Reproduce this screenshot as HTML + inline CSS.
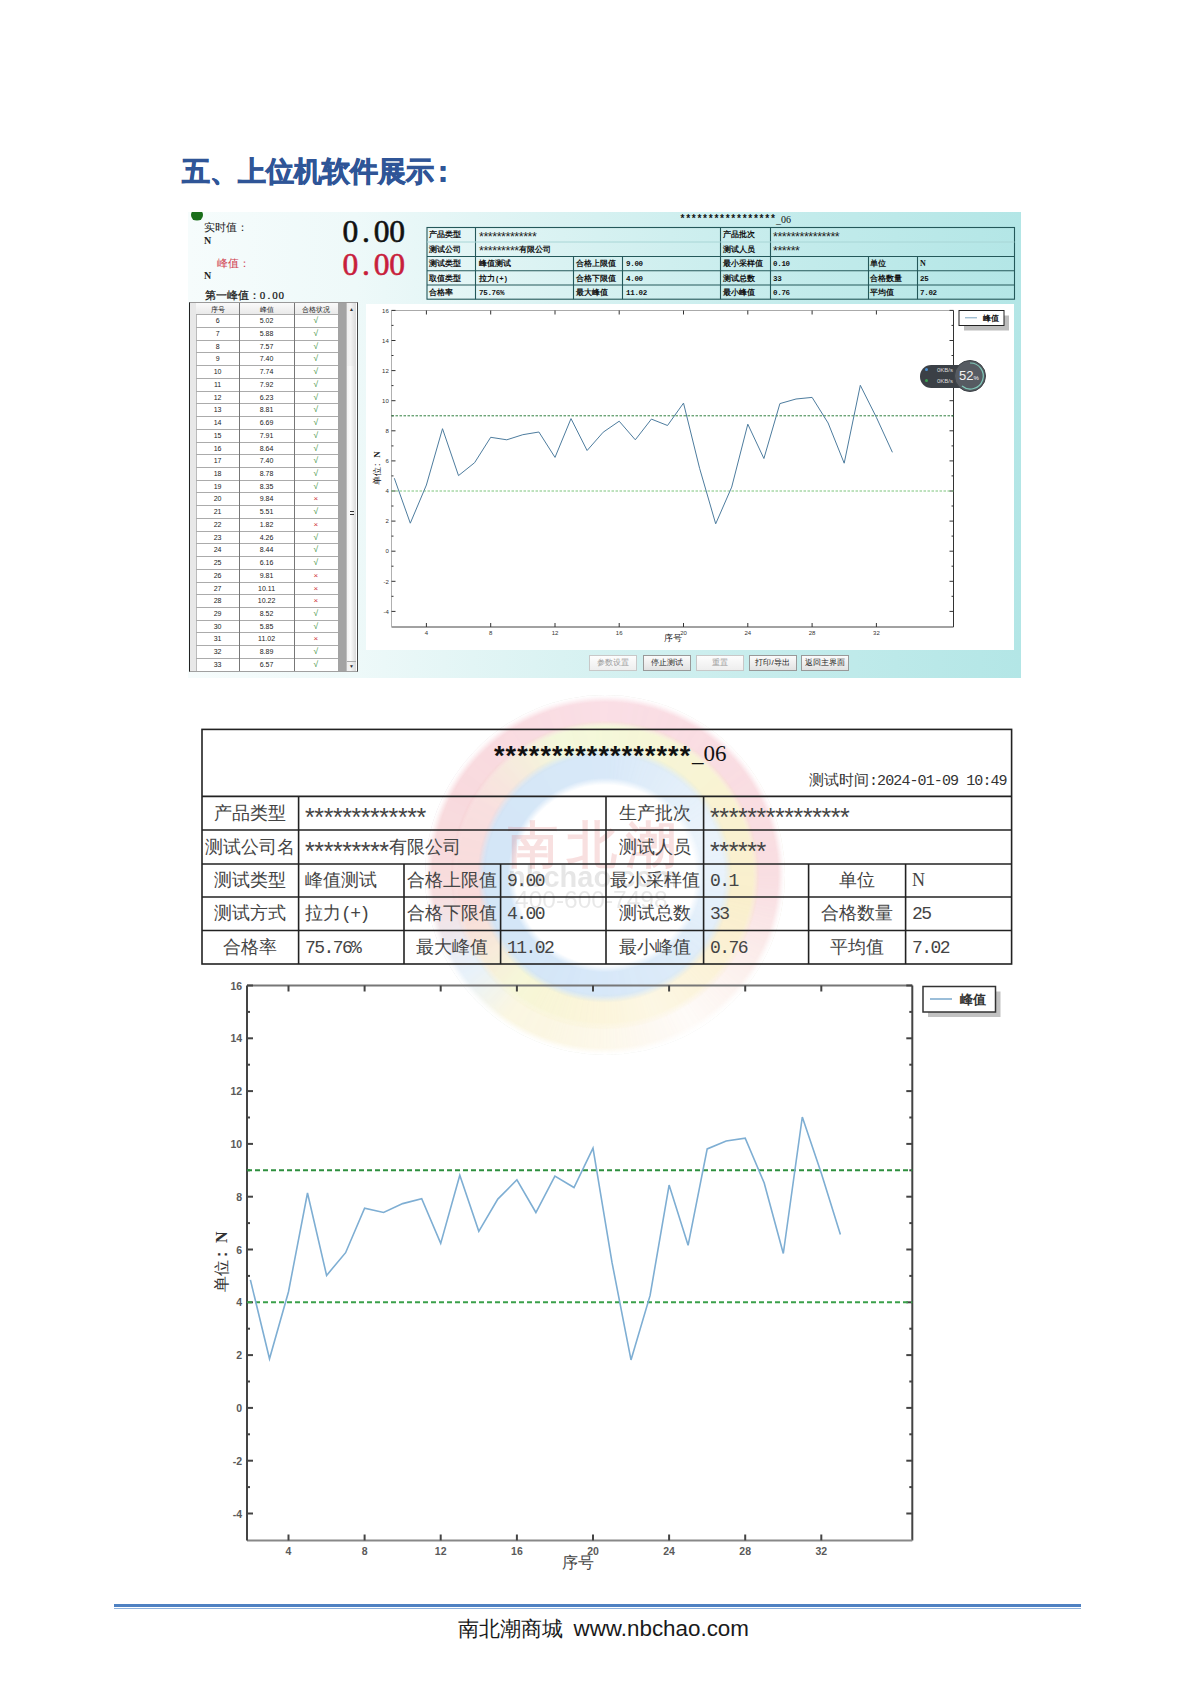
<!DOCTYPE html>
<html><head><meta charset="utf-8">
<style>
html,body{margin:0;padding:0}
body{width:1200px;height:1697px;position:relative;overflow:hidden;background:#fff;font-family:"Liberation Sans",sans-serif;color:#222}
.a{position:absolute;white-space:nowrap;line-height:1}
#head{left:182px;top:157.5px;font-size:28px;font-weight:bold;color:#2f5597;letter-spacing:0px;-webkit-text-stroke:0.8px #2f5597}
#panel{position:absolute;left:188px;top:212px;width:833px;height:466px;overflow:hidden;
 background:linear-gradient(90deg,#f6fcfc 0%,#eef9f9 20%,#d9f2f2 45%,#c2ebeb 75%,#b3e6e6 100%)}
#plot{position:absolute;left:366px;top:304px;width:648px;height:346px;background:#fff}
#ltab{position:absolute;left:189px;top:302px;width:169px;height:370px;background:#fff;border-left:1.5px solid #222;border-top:1px solid #999;border-bottom:1.5px solid #a0a0a0;border-right:1.5px solid #444;box-sizing:border-box;overflow:hidden;font-family:"Liberation Sans",sans-serif;font-size:7px;color:#222}
.lr{position:absolute;left:6px;width:142px;height:12.73px;border-top:1px solid #ababab;box-sizing:border-box}
.lr div{position:absolute;top:2px;text-align:center}
.c1{left:0;width:43.2px}.c2{left:43.2px;width:54.7px}.c3{left:97.9px;width:44px}
.btn{position:absolute;top:654.8px;height:16.3px;width:48px;box-sizing:border-box;border:1px solid #999;background:linear-gradient(#fbfbfb,#e2e2e2);font-size:8px;text-align:center;line-height:14px;color:#222}
.btn.dis{color:#999;border-color:#c8c8c8;background:linear-gradient(#fdfdfd,#eeeeee)}
.rt{position:absolute;font-size:18px;color:#444;line-height:1;white-space:nowrap}
.mono{font-family:"Liberation Mono",monospace}
.ast{font-family:"Liberation Sans",sans-serif;font-size:25px;letter-spacing:-0.45px;position:relative;top:7px;color:#444;line-height:0}
.big{font-family:"Liberation Serif",serif;font-size:31.5px;-webkit-text-stroke:0.6px currentColor}
.big i{font-style:normal;display:inline-block;width:15.6px;text-align:center}
.sm i{font-style:normal;display:inline-block;width:6.2px;text-align:center}
</style></head><body>
<div class="a" id="head">五、上位机软件展示<span style="position:relative;left:-5.5px">：</span></div>

<div id="panel"></div>
<div id="plot"></div>
<!-- green dot -->
<div style="position:absolute;left:191px;top:208.5px;width:12px;height:12px;border-radius:50%;background:#1a6e1a;clip-path:inset(3.5px 0 0 0)"></div>
<div class="a" style="left:204px;top:222px;font-size:11px;color:#222">实时值：</div>
<div class="a" style="left:204px;top:236px;font-size:10px;font-family:'Liberation Serif';font-weight:bold">N</div>
<div class="a" style="left:217px;top:258px;font-size:11px;color:#d04050">峰值：</div>
<div class="a" style="left:204px;top:271px;font-size:10px;font-family:'Liberation Serif';font-weight:bold">N</div>
<div class="a" style="left:204.5px;top:290px;font-size:10.5px;color:#111;-webkit-text-stroke:0.2px #111">第一峰值：<span class="sm" style="font-family:'Liberation Serif';font-size:11px"><i>0</i><i>.</i><i>0</i><i>0</i></span></div>
<div class="a big" style="left:342.5px;top:215.5px;color:#111"><i>0</i><i>.</i><i>0</i><i>0</i></div>
<div class="a big" style="left:342.5px;top:248.7px;color:#c81e3c"><i>0</i><i>.</i><i>0</i><i>0</i></div>

<!-- info table -->
<div class="a mono" style="left:679.5px;top:215px;font-size:10px;font-weight:bold;letter-spacing:-0.35px;color:#111">*****************</div>
<div class="a" style="left:776px;top:215px;font-size:10px;font-family:'Liberation Serif';color:#111">_06</div>
<svg style="position:absolute;left:0;top:0" width="1200" height="700">
<g stroke="#24585a" stroke-width="1.1" fill="none">
<rect x="427" y="227.5" width="587.5" height="71.7"/>
<line x1="427" y1="256.5" x2="1014.5" y2="256.5"/>
<line x1="427" y1="270.7" x2="1014.5" y2="270.7"/>
<line x1="427" y1="285" x2="1014.5" y2="285"/>
<line x1="475.5" y1="227.5" x2="475.5" y2="299.2"/>
<line x1="720.5" y1="227.5" x2="720.5" y2="299.2"/>
<line x1="770.5" y1="227.5" x2="770.5" y2="299.2"/>
<line x1="573.5" y1="256.5" x2="573.5" y2="299.2"/>
<line x1="622.5" y1="256.5" x2="622.5" y2="299.2"/>
<line x1="868.5" y1="256.5" x2="868.5" y2="299.2"/>
<line x1="917.5" y1="256.5" x2="917.5" y2="299.2"/>
</g>
<line x1="427" y1="242" x2="1014.5" y2="242" stroke="#a8d6d6" stroke-width="1"/>
</svg>
<div class="a" style="left:429px;top:228.3px;height:14.5px;line-height:14.5px;font-size:8px;color:#111;font-weight:bold">产品类型</div>
<div class="a" style="left:479px;top:228.3px;height:14.5px;line-height:14.5px;font-size:8px;color:#111;font-weight:bold"><span style="font-family:Liberation Sans;font-size:12.5px;letter-spacing:-0.45px;position:relative;top:3.3px;line-height:0;font-weight:normal;color:#222">*************</span></div>
<div class="a" style="left:723px;top:228.3px;height:14.5px;line-height:14.5px;font-size:8px;color:#111;font-weight:bold">产品批次</div>
<div class="a" style="left:773px;top:228.3px;height:14.5px;line-height:14.5px;font-size:8px;color:#111;font-weight:bold"><span style="font-family:Liberation Sans;font-size:12.5px;letter-spacing:-0.45px;position:relative;top:3.3px;line-height:0;font-weight:normal;color:#222">***************</span></div>
<div class="a" style="left:429px;top:242.8px;height:14.5px;line-height:14.5px;font-size:8px;color:#111;font-weight:bold">测试公司</div>
<div class="a" style="left:479px;top:242.8px;height:14.5px;line-height:14.5px;font-size:8px;color:#111;font-weight:bold"><span style="font-family:Liberation Sans;font-size:12.5px;letter-spacing:-0.45px;position:relative;top:3.3px;line-height:0;font-weight:normal;color:#222">*********</span>有限公司</div>
<div class="a" style="left:723px;top:242.8px;height:14.5px;line-height:14.5px;font-size:8px;color:#111;font-weight:bold">测试人员</div>
<div class="a" style="left:773px;top:242.8px;height:14.5px;line-height:14.5px;font-size:8px;color:#111;font-weight:bold"><span style="font-family:Liberation Sans;font-size:12.5px;letter-spacing:-0.45px;position:relative;top:3.3px;line-height:0;font-weight:normal;color:#222">******</span></div>
<div class="a" style="left:429px;top:257.3px;height:14.2px;line-height:14.2px;font-size:8px;color:#111;font-weight:bold">测试类型</div>
<div class="a" style="left:479px;top:257.3px;height:14.2px;line-height:14.2px;font-size:8px;color:#111;font-weight:bold">峰值测试</div>
<div class="a" style="left:576px;top:257.3px;height:14.2px;line-height:14.2px;font-size:8px;color:#111;font-weight:bold">合格上限值</div>
<div class="a" style="left:626px;top:257.3px;height:14.2px;line-height:14.2px;font-size:8px;color:#111;font-weight:bold"><span class="mono" style="font-size:7.5px;font-weight:bold;letter-spacing:-0.3px">9.00</span></div>
<div class="a" style="left:723px;top:257.3px;height:14.2px;line-height:14.2px;font-size:8px;color:#111;font-weight:bold">最小采样值</div>
<div class="a" style="left:773px;top:257.3px;height:14.2px;line-height:14.2px;font-size:8px;color:#111;font-weight:bold"><span class="mono" style="font-size:7.5px;font-weight:bold;letter-spacing:-0.3px">0.10</span></div>
<div class="a" style="left:870px;top:257.3px;height:14.2px;line-height:14.2px;font-size:8px;color:#111;font-weight:bold">单位</div>
<div class="a" style="left:920px;top:257.3px;height:14.2px;line-height:14.2px;font-size:8px;color:#111;font-weight:bold"><span style="font-family:Liberation Serif;font-size:8px">N</span></div>
<div class="a" style="left:429px;top:271.5px;height:14.3px;line-height:14.3px;font-size:8px;color:#111;font-weight:bold">取值类型</div>
<div class="a" style="left:479px;top:271.5px;height:14.3px;line-height:14.3px;font-size:8px;color:#111;font-weight:bold">拉力<span class="mono" style="font-size:7.5px;font-weight:bold;letter-spacing:-0.3px">(+)</span></div>
<div class="a" style="left:576px;top:271.5px;height:14.3px;line-height:14.3px;font-size:8px;color:#111;font-weight:bold">合格下限值</div>
<div class="a" style="left:626px;top:271.5px;height:14.3px;line-height:14.3px;font-size:8px;color:#111;font-weight:bold"><span class="mono" style="font-size:7.5px;font-weight:bold;letter-spacing:-0.3px">4.00</span></div>
<div class="a" style="left:723px;top:271.5px;height:14.3px;line-height:14.3px;font-size:8px;color:#111;font-weight:bold">测试总数</div>
<div class="a" style="left:773px;top:271.5px;height:14.3px;line-height:14.3px;font-size:8px;color:#111;font-weight:bold"><span class="mono" style="font-size:7.5px;font-weight:bold;letter-spacing:-0.3px">33</span></div>
<div class="a" style="left:870px;top:271.5px;height:14.3px;line-height:14.3px;font-size:8px;color:#111;font-weight:bold">合格数量</div>
<div class="a" style="left:920px;top:271.5px;height:14.3px;line-height:14.3px;font-size:8px;color:#111;font-weight:bold"><span class="mono" style="font-size:7.5px;font-weight:bold;letter-spacing:-0.3px">25</span></div>
<div class="a" style="left:429px;top:285.8px;height:14.2px;line-height:14.2px;font-size:8px;color:#111;font-weight:bold">合格率</div>
<div class="a" style="left:479px;top:285.8px;height:14.2px;line-height:14.2px;font-size:8px;color:#111;font-weight:bold"><span class="mono" style="font-size:7.5px;font-weight:bold;letter-spacing:-0.3px">75.76%</span></div>
<div class="a" style="left:576px;top:285.8px;height:14.2px;line-height:14.2px;font-size:8px;color:#111;font-weight:bold">最大峰值</div>
<div class="a" style="left:626px;top:285.8px;height:14.2px;line-height:14.2px;font-size:8px;color:#111;font-weight:bold"><span class="mono" style="font-size:7.5px;font-weight:bold;letter-spacing:-0.3px">11.02</span></div>
<div class="a" style="left:723px;top:285.8px;height:14.2px;line-height:14.2px;font-size:8px;color:#111;font-weight:bold">最小峰值</div>
<div class="a" style="left:773px;top:285.8px;height:14.2px;line-height:14.2px;font-size:8px;color:#111;font-weight:bold"><span class="mono" style="font-size:7.5px;font-weight:bold;letter-spacing:-0.3px">0.76</span></div>
<div class="a" style="left:870px;top:285.8px;height:14.2px;line-height:14.2px;font-size:8px;color:#111;font-weight:bold">平均值</div>
<div class="a" style="left:920px;top:285.8px;height:14.2px;line-height:14.2px;font-size:8px;color:#111;font-weight:bold"><span class="mono" style="font-size:7.5px;font-weight:bold;letter-spacing:-0.3px">7.02</span></div>

<div id="ltab">
 <div style="position:absolute;left:0;top:0;width:6px;height:100%;background:#e8e8e8;border-right:1px solid #bbb"></div>
 <div style="position:absolute;left:6px;top:0;width:142px;height:11.2px;background:linear-gradient(#fafafa,#e9e9e9)"></div>
 <div class="lr" style="top:0;border-top:none"><div class="c1" style="top:1.5px">序号</div><div class="c2" style="top:1.5px">峰值</div><div class="c3" style="top:1.5px">合格状况</div></div>
<div class="lr" style="top:11.20px"><div class="c1">6</div><div class="c2">5.02</div><div class="c3"><span style="color:#2f8a2f;font-size:8.5px;line-height:7px">&#8730;</span></div></div>
<div class="lr" style="top:23.93px"><div class="c1">7</div><div class="c2">5.88</div><div class="c3"><span style="color:#2f8a2f;font-size:8.5px;line-height:7px">&#8730;</span></div></div>
<div class="lr" style="top:36.66px"><div class="c1">8</div><div class="c2">7.57</div><div class="c3"><span style="color:#2f8a2f;font-size:8.5px;line-height:7px">&#8730;</span></div></div>
<div class="lr" style="top:49.39px"><div class="c1">9</div><div class="c2">7.40</div><div class="c3"><span style="color:#2f8a2f;font-size:8.5px;line-height:7px">&#8730;</span></div></div>
<div class="lr" style="top:62.12px"><div class="c1">10</div><div class="c2">7.74</div><div class="c3"><span style="color:#2f8a2f;font-size:8.5px;line-height:7px">&#8730;</span></div></div>
<div class="lr" style="top:74.85px"><div class="c1">11</div><div class="c2">7.92</div><div class="c3"><span style="color:#2f8a2f;font-size:8.5px;line-height:7px">&#8730;</span></div></div>
<div class="lr" style="top:87.58px"><div class="c1">12</div><div class="c2">6.23</div><div class="c3"><span style="color:#2f8a2f;font-size:8.5px;line-height:7px">&#8730;</span></div></div>
<div class="lr" style="top:100.31px"><div class="c1">13</div><div class="c2">8.81</div><div class="c3"><span style="color:#2f8a2f;font-size:8.5px;line-height:7px">&#8730;</span></div></div>
<div class="lr" style="top:113.04px"><div class="c1">14</div><div class="c2">6.69</div><div class="c3"><span style="color:#2f8a2f;font-size:8.5px;line-height:7px">&#8730;</span></div></div>
<div class="lr" style="top:125.77px"><div class="c1">15</div><div class="c2">7.91</div><div class="c3"><span style="color:#2f8a2f;font-size:8.5px;line-height:7px">&#8730;</span></div></div>
<div class="lr" style="top:138.50px"><div class="c1">16</div><div class="c2">8.64</div><div class="c3"><span style="color:#2f8a2f;font-size:8.5px;line-height:7px">&#8730;</span></div></div>
<div class="lr" style="top:151.23px"><div class="c1">17</div><div class="c2">7.40</div><div class="c3"><span style="color:#2f8a2f;font-size:8.5px;line-height:7px">&#8730;</span></div></div>
<div class="lr" style="top:163.96px"><div class="c1">18</div><div class="c2">8.78</div><div class="c3"><span style="color:#2f8a2f;font-size:8.5px;line-height:7px">&#8730;</span></div></div>
<div class="lr" style="top:176.69px"><div class="c1">19</div><div class="c2">8.35</div><div class="c3"><span style="color:#2f8a2f;font-size:8.5px;line-height:7px">&#8730;</span></div></div>
<div class="lr" style="top:189.42px"><div class="c1">20</div><div class="c2">9.84</div><div class="c3"><span style="color:#d03a3a;font-size:8px;line-height:7px">&#215;</span></div></div>
<div class="lr" style="top:202.15px"><div class="c1">21</div><div class="c2">5.51</div><div class="c3"><span style="color:#2f8a2f;font-size:8.5px;line-height:7px">&#8730;</span></div></div>
<div class="lr" style="top:214.88px"><div class="c1">22</div><div class="c2">1.82</div><div class="c3"><span style="color:#d03a3a;font-size:8px;line-height:7px">&#215;</span></div></div>
<div class="lr" style="top:227.61px"><div class="c1">23</div><div class="c2">4.26</div><div class="c3"><span style="color:#2f8a2f;font-size:8.5px;line-height:7px">&#8730;</span></div></div>
<div class="lr" style="top:240.34px"><div class="c1">24</div><div class="c2">8.44</div><div class="c3"><span style="color:#2f8a2f;font-size:8.5px;line-height:7px">&#8730;</span></div></div>
<div class="lr" style="top:253.07px"><div class="c1">25</div><div class="c2">6.16</div><div class="c3"><span style="color:#2f8a2f;font-size:8.5px;line-height:7px">&#8730;</span></div></div>
<div class="lr" style="top:265.80px"><div class="c1">26</div><div class="c2">9.81</div><div class="c3"><span style="color:#d03a3a;font-size:8px;line-height:7px">&#215;</span></div></div>
<div class="lr" style="top:278.53px"><div class="c1">27</div><div class="c2">10.11</div><div class="c3"><span style="color:#d03a3a;font-size:8px;line-height:7px">&#215;</span></div></div>
<div class="lr" style="top:291.26px"><div class="c1">28</div><div class="c2">10.22</div><div class="c3"><span style="color:#d03a3a;font-size:8px;line-height:7px">&#215;</span></div></div>
<div class="lr" style="top:303.99px"><div class="c1">29</div><div class="c2">8.52</div><div class="c3"><span style="color:#2f8a2f;font-size:8.5px;line-height:7px">&#8730;</span></div></div>
<div class="lr" style="top:316.72px"><div class="c1">30</div><div class="c2">5.85</div><div class="c3"><span style="color:#2f8a2f;font-size:8.5px;line-height:7px">&#8730;</span></div></div>
<div class="lr" style="top:329.45px"><div class="c1">31</div><div class="c2">11.02</div><div class="c3"><span style="color:#d03a3a;font-size:8px;line-height:7px">&#215;</span></div></div>
<div class="lr" style="top:342.18px"><div class="c1">32</div><div class="c2">8.89</div><div class="c3"><span style="color:#2f8a2f;font-size:8.5px;line-height:7px">&#8730;</span></div></div>
<div class="lr" style="top:354.91px"><div class="c1">33</div><div class="c2">6.57</div><div class="c3"><span style="color:#2f8a2f;font-size:8.5px;line-height:7px">&#8730;</span></div></div>
 <div style="position:absolute;left:49px;top:0;width:1px;height:100%;background:#777"></div>
 <div style="position:absolute;left:103.5px;top:0;width:1px;height:100%;background:#777"></div>
 <div style="position:absolute;left:148px;top:0;width:9px;height:100%;background:#a3a3a3;border-right:1px solid #bdbdbd;box-sizing:border-box"></div>
 <div style="position:absolute;left:157px;top:0;width:9px;height:100%;background:linear-gradient(90deg,#efefef,#f3f3f3 40%,#dadada)"></div>
 <div style="position:absolute;left:157px;top:63px;width:9px;height:296px;background:linear-gradient(90deg,#f2f2f2,#fbfbfb 40%,#d9d9d9);border-bottom:1px solid #aaa;box-sizing:border-box"></div>
 <div style="position:absolute;left:159.5px;top:208px;width:4px;height:1px;background:#333"></div>
 <div style="position:absolute;left:159.5px;top:210.5px;width:4px;height:1px;background:#333"></div>
 <div style="position:absolute;left:159px;top:2.5px;font-size:5px;color:#333">&#9650;</div>
 <div style="position:absolute;left:159px;top:360px;font-size:5px;color:#333">&#9660;</div>
</div>

<div class="btn dis" style="left:589.3px">参数设置</div>
<div class="btn" style="left:642.5px">停止测试</div>
<div class="btn dis" style="left:695.5px">重置</div>
<div class="btn" style="left:748.5px">打印/导出</div>
<div class="btn" style="left:801.2px">返回主界面</div>

<svg style="position:absolute;left:0;top:0;font-family:'Liberation Sans';font-size:6px;fill:#333" width="1200" height="700">
<line x1="391.5" y1="310.5" x2="953.5" y2="310.5" stroke="#aaa" stroke-width="1"/>
<line x1="953.5" y1="310.5" x2="953.5" y2="627" stroke="#333" stroke-width="1"/>
<line x1="391.5" y1="627" x2="953.5" y2="627" stroke="#444" stroke-width="1"/>
<line x1="391.5" y1="310.5" x2="391.5" y2="627" stroke="#b0b0b0" stroke-width="1"/>
<line x1="391.5" y1="611.4" x2="395.5" y2="611.4" stroke="#333" stroke-width="1"/>
<line x1="953.5" y1="611.4" x2="949.5" y2="611.4" stroke="#333" stroke-width="1"/>
<text x="388.8" y="613.6" text-anchor="end">-4</text>
<line x1="391.5" y1="596.3" x2="393.5" y2="596.3" stroke="#333" stroke-width="1"/>
<line x1="953.5" y1="596.3" x2="951.5" y2="596.3" stroke="#333" stroke-width="1"/>
<line x1="391.5" y1="581.3" x2="395.5" y2="581.3" stroke="#333" stroke-width="1"/>
<line x1="953.5" y1="581.3" x2="949.5" y2="581.3" stroke="#333" stroke-width="1"/>
<text x="388.8" y="583.5" text-anchor="end">-2</text>
<line x1="391.5" y1="566.2" x2="393.5" y2="566.2" stroke="#333" stroke-width="1"/>
<line x1="953.5" y1="566.2" x2="951.5" y2="566.2" stroke="#333" stroke-width="1"/>
<line x1="391.5" y1="551.2" x2="395.5" y2="551.2" stroke="#333" stroke-width="1"/>
<line x1="953.5" y1="551.2" x2="949.5" y2="551.2" stroke="#333" stroke-width="1"/>
<text x="388.8" y="553.4" text-anchor="end">0</text>
<line x1="391.5" y1="536.1" x2="393.5" y2="536.1" stroke="#333" stroke-width="1"/>
<line x1="953.5" y1="536.1" x2="951.5" y2="536.1" stroke="#333" stroke-width="1"/>
<line x1="391.5" y1="521.1" x2="395.5" y2="521.1" stroke="#333" stroke-width="1"/>
<line x1="953.5" y1="521.1" x2="949.5" y2="521.1" stroke="#333" stroke-width="1"/>
<text x="388.8" y="523.3" text-anchor="end">2</text>
<line x1="391.5" y1="506.0" x2="393.5" y2="506.0" stroke="#333" stroke-width="1"/>
<line x1="953.5" y1="506.0" x2="951.5" y2="506.0" stroke="#333" stroke-width="1"/>
<line x1="391.5" y1="491.0" x2="395.5" y2="491.0" stroke="#333" stroke-width="1"/>
<line x1="953.5" y1="491.0" x2="949.5" y2="491.0" stroke="#333" stroke-width="1"/>
<text x="388.8" y="493.2" text-anchor="end">4</text>
<line x1="391.5" y1="475.9" x2="393.5" y2="475.9" stroke="#333" stroke-width="1"/>
<line x1="953.5" y1="475.9" x2="951.5" y2="475.9" stroke="#333" stroke-width="1"/>
<line x1="391.5" y1="460.9" x2="395.5" y2="460.9" stroke="#333" stroke-width="1"/>
<line x1="953.5" y1="460.9" x2="949.5" y2="460.9" stroke="#333" stroke-width="1"/>
<text x="388.8" y="463.1" text-anchor="end">6</text>
<line x1="391.5" y1="445.9" x2="393.5" y2="445.9" stroke="#333" stroke-width="1"/>
<line x1="953.5" y1="445.9" x2="951.5" y2="445.9" stroke="#333" stroke-width="1"/>
<line x1="391.5" y1="430.8" x2="395.5" y2="430.8" stroke="#333" stroke-width="1"/>
<line x1="953.5" y1="430.8" x2="949.5" y2="430.8" stroke="#333" stroke-width="1"/>
<text x="388.8" y="433.0" text-anchor="end">8</text>
<line x1="391.5" y1="415.8" x2="393.5" y2="415.8" stroke="#333" stroke-width="1"/>
<line x1="953.5" y1="415.8" x2="951.5" y2="415.8" stroke="#333" stroke-width="1"/>
<line x1="391.5" y1="400.7" x2="395.5" y2="400.7" stroke="#333" stroke-width="1"/>
<line x1="953.5" y1="400.7" x2="949.5" y2="400.7" stroke="#333" stroke-width="1"/>
<text x="388.8" y="402.9" text-anchor="end">10</text>
<line x1="391.5" y1="385.6" x2="393.5" y2="385.6" stroke="#333" stroke-width="1"/>
<line x1="953.5" y1="385.6" x2="951.5" y2="385.6" stroke="#333" stroke-width="1"/>
<line x1="391.5" y1="370.6" x2="395.5" y2="370.6" stroke="#333" stroke-width="1"/>
<line x1="953.5" y1="370.6" x2="949.5" y2="370.6" stroke="#333" stroke-width="1"/>
<text x="388.8" y="372.8" text-anchor="end">12</text>
<line x1="391.5" y1="355.5" x2="393.5" y2="355.5" stroke="#333" stroke-width="1"/>
<line x1="953.5" y1="355.5" x2="951.5" y2="355.5" stroke="#333" stroke-width="1"/>
<line x1="391.5" y1="340.5" x2="395.5" y2="340.5" stroke="#333" stroke-width="1"/>
<line x1="953.5" y1="340.5" x2="949.5" y2="340.5" stroke="#333" stroke-width="1"/>
<text x="388.8" y="342.7" text-anchor="end">14</text>
<line x1="391.5" y1="325.4" x2="393.5" y2="325.4" stroke="#333" stroke-width="1"/>
<line x1="953.5" y1="325.4" x2="951.5" y2="325.4" stroke="#333" stroke-width="1"/>
<line x1="391.5" y1="310.4" x2="395.5" y2="310.4" stroke="#333" stroke-width="1"/>
<line x1="953.5" y1="310.4" x2="949.5" y2="310.4" stroke="#333" stroke-width="1"/>
<text x="388.8" y="312.6" text-anchor="end">16</text>
<line x1="426.4" y1="627" x2="426.4" y2="623" stroke="#333" stroke-width="1"/>
<line x1="426.4" y1="310.5" x2="426.4" y2="314.5" stroke="#333" stroke-width="1"/>
<text x="426.4" y="635.1" text-anchor="middle">4</text>
<line x1="490.7" y1="627" x2="490.7" y2="623" stroke="#333" stroke-width="1"/>
<line x1="490.7" y1="310.5" x2="490.7" y2="314.5" stroke="#333" stroke-width="1"/>
<text x="490.7" y="635.1" text-anchor="middle">8</text>
<line x1="555.0" y1="627" x2="555.0" y2="623" stroke="#333" stroke-width="1"/>
<line x1="555.0" y1="310.5" x2="555.0" y2="314.5" stroke="#333" stroke-width="1"/>
<text x="555.0" y="635.1" text-anchor="middle">12</text>
<line x1="619.2" y1="627" x2="619.2" y2="623" stroke="#333" stroke-width="1"/>
<line x1="619.2" y1="310.5" x2="619.2" y2="314.5" stroke="#333" stroke-width="1"/>
<text x="619.2" y="635.1" text-anchor="middle">16</text>
<line x1="683.5" y1="627" x2="683.5" y2="623" stroke="#333" stroke-width="1"/>
<line x1="683.5" y1="310.5" x2="683.5" y2="314.5" stroke="#333" stroke-width="1"/>
<text x="683.5" y="635.1" text-anchor="middle">20</text>
<line x1="747.8" y1="627" x2="747.8" y2="623" stroke="#333" stroke-width="1"/>
<line x1="747.8" y1="310.5" x2="747.8" y2="314.5" stroke="#333" stroke-width="1"/>
<text x="747.8" y="635.1" text-anchor="middle">24</text>
<line x1="812.1" y1="627" x2="812.1" y2="623" stroke="#333" stroke-width="1"/>
<line x1="812.1" y1="310.5" x2="812.1" y2="314.5" stroke="#333" stroke-width="1"/>
<text x="812.1" y="635.1" text-anchor="middle">28</text>
<line x1="876.4" y1="627" x2="876.4" y2="623" stroke="#333" stroke-width="1"/>
<line x1="876.4" y1="310.5" x2="876.4" y2="314.5" stroke="#333" stroke-width="1"/>
<text x="876.4" y="635.1" text-anchor="middle">32</text>
<line x1="391.5" y1="415.8" x2="953.5" y2="415.8" stroke="#2f7f3f" stroke-width="1" stroke-dasharray="2.5,1.5"/>
<line x1="391.5" y1="491.0" x2="953.5" y2="491.0" stroke="#7cc47c" stroke-width="1" stroke-dasharray="2.5,1.5"/>
<polyline points="394.3,478.2 410.3,523.2 426.4,485.0 442.5,428.7 458.5,475.6 474.6,462.7 490.7,437.3 506.8,439.8 522.8,434.7 538.9,432.0 555.0,457.4 571.0,418.6 587.1,450.5 603.2,432.2 619.2,421.2 635.3,439.8 651.4,419.1 667.5,425.5 683.5,403.1 699.6,468.3 715.7,523.8 731.7,487.1 747.8,424.2 763.9,458.5 779.9,403.6 796.0,399.0 812.1,397.4 828.1,423.0 844.2,463.2 860.3,385.3 876.4,417.4 892.4,452.3" fill="none" stroke="#4d7c9e" stroke-width="1"/>
<text x="0" y="0" transform="translate(380,484.5) rotate(-90)" font-size="9" fill="#111"><tspan x="0">单位</tspan><tspan x="18.5">:</tspan><tspan x="26.8" font-family="Liberation Serif" font-weight="bold">N</tspan></text>
<text x="664" y="641" font-size="9" fill="#222">序号</text>
<rect x="964" y="315.5" width="45" height="15" fill="#bdbdbd"/>
<rect x="959" y="310.5" width="45" height="15" fill="#fff" stroke="#222" stroke-width="1"/>
<line x1="965" y1="317.8" x2="977" y2="317.8" stroke="#7aa3bf" stroke-width="1"/>
<text x="983" y="321" font-size="8" font-weight="bold" fill="#111">峰值</text>
</svg>
<!-- widget -->
<div style="position:absolute;left:920px;top:365px;width:55px;height:22.5px;border-radius:11.25px;background:#3b4046"></div>
<div style="position:absolute;left:924.5px;top:367.5px;width:3px;height:3px;border-radius:50%;background:#4a8fd0"></div>
<div style="position:absolute;left:924.5px;top:379px;width:3px;height:3px;border-radius:50%;background:#3aa050"></div>
<div class="a" style="left:937px;top:366.5px;font-size:6px;color:#ddd">0KB/s</div>
<div class="a" style="left:937px;top:378px;font-size:6px;color:#ddd">0KB/s</div>
<div style="position:absolute;left:953.5px;top:360px;width:32px;height:32px;border-radius:50%;background:#565b62;box-sizing:border-box;border:1.5px solid #3d4247"></div>
<svg style="position:absolute;left:953.5px;top:360px" width="32" height="32"><path d="M16 3 A13 13 0 1 1 8 26" fill="none" stroke="#7fc8b8" stroke-width="1.2"/></svg>
<div class="a" style="left:959px;top:369px;font-size:13px;color:#f4f4f4">52<span style="font-size:6px">%</span></div>

<!-- watermark -->
<div style="position:absolute;left:0;top:0;width:1200px;height:1697px;overflow:hidden;pointer-events:none">
<div style="position:absolute;left:425px;top:695px;width:360px;height:360px;border-radius:50%;filter:blur(3px);
 background:conic-gradient(from 0deg,#f6c3d0 0deg,#f3b7c2 50deg,#f0b0b8 100deg,#f3c8b0 140deg,#f6e4ae 180deg,#f4e9b4 215deg,#c6dff5 235deg,#f0b6b6 265deg,#f2b5bd 300deg,#f6c3d0 360deg);
 -webkit-mask:radial-gradient(circle closest-side,transparent 0,transparent 82%,#000 85%,#000 96%,transparent 100%),conic-gradient(rgba(0,0,0,.9) 0deg,rgba(0,0,0,.7) 90deg,rgba(0,0,0,.15) 150deg,rgba(0,0,0,.6) 200deg,rgba(0,0,0,.8) 270deg,rgba(0,0,0,.9) 360deg);-webkit-mask-composite:source-in;opacity:.6"></div>
<div style="position:absolute;left:425px;top:695px;width:360px;height:360px;border-radius:50%;filter:blur(3px);
 background:conic-gradient(from 0deg,#eaf0b0 0deg,#f4e6a8 60deg,#f6dfa0 120deg,#f7e6a8 180deg,#eef0b8 220deg,#f1b2b2 260deg,#f0b4b4 300deg,#e6efb0 340deg,#eaf0b0 360deg);
 -webkit-mask:radial-gradient(circle closest-side,transparent 0,transparent 66%,#000 70%,#000 82%,transparent 86%),conic-gradient(rgba(0,0,0,.8) 0deg,rgba(0,0,0,.9) 100deg,rgba(0,0,0,.5) 160deg,rgba(0,0,0,.9) 210deg,rgba(0,0,0,.7) 300deg,rgba(0,0,0,.8) 360deg);-webkit-mask-composite:source-in;opacity:.6"></div>
<div style="position:absolute;left:425px;top:695px;width:360px;height:360px;border-radius:50%;filter:blur(3px);
 background:conic-gradient(from 0deg,#bcd8f3 0deg,#c4ddf4 90deg,#b8d6f3 180deg,#b5d4f2 270deg,#bcd8f3 360deg);
 -webkit-mask:radial-gradient(circle closest-side,transparent 0,transparent 50%,#000 54%,#000 67%,transparent 71%),conic-gradient(rgba(0,0,0,.9) 0deg,rgba(0,0,0,.5) 70deg,rgba(0,0,0,.8) 140deg,rgba(0,0,0,.9) 220deg,rgba(0,0,0,.9) 300deg,rgba(0,0,0,.9) 360deg);-webkit-mask-composite:source-in;opacity:.65"></div>
</div>
<svg style="position:absolute;left:0;top:0" width="1200" height="1697">
<text x="508" y="862" font-size="50" fill="#e06a6a" opacity="0.2" font-weight="bold" letter-spacing="9">南北潮</text>
<text x="508" y="887" font-size="29" fill="#777" opacity="0.18" font-weight="bold">nbchao.com</text>
<text x="515" y="908" font-size="24.5" fill="#777" opacity="0.16">400-600-7498</text>
</svg>

<!-- report table -->
<svg style="position:absolute;left:0;top:700px" width="1200" height="300">
<g stroke="#222" stroke-width="1.6" fill="none" transform="translate(0,-700)">
<rect x="202" y="729.4" width="809.6" height="234.6"/>
<line x1="202" y1="796.4" x2="1011.6" y2="796.4"/>
<line x1="202" y1="830" x2="1011.6" y2="830"/>
<line x1="202" y1="864" x2="1011.6" y2="864"/>
<line x1="202" y1="897" x2="1011.6" y2="897"/>
<line x1="202" y1="930.5" x2="1011.6" y2="930.5"/>
<line x1="298.6" y1="796.4" x2="298.6" y2="964"/>
<line x1="606" y1="796.4" x2="606" y2="964"/>
<line x1="703.6" y1="796.4" x2="703.6" y2="964"/>
<line x1="404" y1="864" x2="404" y2="964"/>
<line x1="500.6" y1="864" x2="500.6" y2="964"/>
<line x1="808.6" y1="864" x2="808.6" y2="964"/>
<line x1="905.6" y1="864" x2="905.6" y2="964"/>
</g>
</svg>
<div class="rt" style="left:202px;width:96.60000000000002px;text-align:center;top:803.7px">产品类型</div>
<div class="rt" style="left:305.1px;top:803.7px"><span class="ast">*************</span></div>
<div class="rt" style="left:606px;width:97.60000000000002px;text-align:center;top:803.7px">生产批次</div>
<div class="rt" style="left:710.1px;top:803.7px"><span class="ast">***************</span></div>
<div class="rt" style="left:202px;width:96.60000000000002px;text-align:center;top:837.5px">测试公司名</div>
<div class="rt" style="left:305.1px;top:837.5px"><span class="ast">*********</span>有限公司</div>
<div class="rt" style="left:606px;width:97.60000000000002px;text-align:center;top:837.5px">测试人员</div>
<div class="rt" style="left:710.1px;top:837.5px"><span class="ast">******</span></div>
<div class="rt" style="left:202px;width:96.60000000000002px;text-align:center;top:871.0px">测试类型</div>
<div class="rt" style="left:305.1px;top:871.0px">峰值测试</div>
<div class="rt" style="left:404px;width:96.60000000000002px;text-align:center;top:871.0px">合格上限值</div>
<div class="rt" style="left:507.1px;top:871.0px"><span class="mono" style="letter-spacing:-1.6px">9.00</span></div>
<div class="rt" style="left:606px;width:97.60000000000002px;text-align:center;top:871.0px">最小采样值</div>
<div class="rt" style="left:710.1px;top:871.0px"><span class="mono" style="letter-spacing:-1.6px">0.1</span></div>
<div class="rt" style="left:808.6px;width:97.0px;text-align:center;top:871.0px">单位</div>
<div class="rt" style="left:912.1px;top:871.0px"><span style="font-family:Liberation Serif">N</span></div>
<div class="rt" style="left:202px;width:96.60000000000002px;text-align:center;top:904.2px">测试方式</div>
<div class="rt" style="left:305.1px;top:904.2px">拉力<span class="mono" style="letter-spacing:-1.6px">(+)</span></div>
<div class="rt" style="left:404px;width:96.60000000000002px;text-align:center;top:904.2px">合格下限值</div>
<div class="rt" style="left:507.1px;top:904.2px"><span class="mono" style="letter-spacing:-1.6px">4.00</span></div>
<div class="rt" style="left:606px;width:97.60000000000002px;text-align:center;top:904.2px">测试总数</div>
<div class="rt" style="left:710.1px;top:904.2px"><span class="mono" style="letter-spacing:-1.6px">33</span></div>
<div class="rt" style="left:808.6px;width:97.0px;text-align:center;top:904.2px">合格数量</div>
<div class="rt" style="left:912.1px;top:904.2px"><span class="mono" style="letter-spacing:-1.6px">25</span></div>
<div class="rt" style="left:202px;width:96.60000000000002px;text-align:center;top:937.8px">合格率</div>
<div class="rt" style="left:305.1px;top:937.8px"><span class="mono" style="letter-spacing:-1.6px">75.76%</span></div>
<div class="rt" style="left:404px;width:96.60000000000002px;text-align:center;top:937.8px">最大峰值</div>
<div class="rt" style="left:507.1px;top:937.8px"><span class="mono" style="letter-spacing:-1.6px">11.02</span></div>
<div class="rt" style="left:606px;width:97.60000000000002px;text-align:center;top:937.8px">最小峰值</div>
<div class="rt" style="left:710.1px;top:937.8px"><span class="mono" style="letter-spacing:-1.6px">0.76</span></div>
<div class="rt" style="left:808.6px;width:97.0px;text-align:center;top:937.8px">平均值</div>
<div class="rt" style="left:912.1px;top:937.8px"><span class="mono" style="letter-spacing:-1.6px">7.02</span></div>
<div class="a" style="left:494px;top:747px;font-size:27px;font-weight:bold;letter-spacing:1.1px;color:#111;line-height:0"><span style="position:relative;top:9px">*****************</span></div>
<div class="a" style="left:692px;top:741.5px;font-size:23px;font-family:'Liberation Serif';color:#111">_06</div>
<div class="a" style="left:809px;top:772px;font-size:15.4px;color:#333">测试时间<span class="mono" style="font-size:15px;letter-spacing:-0.9px">:2024-01-09 10:49</span></div>

<svg style="position:absolute;left:0;top:0;font-family:'Liberation Sans';font-size:10.5px;font-weight:bold;fill:#5a5a5a" width="1200" height="1697">
<line x1="247" y1="985.5" x2="912.3" y2="985.5" stroke="#777" stroke-width="2"/>
<line x1="912.3" y1="985.5" x2="912.3" y2="1540.5" stroke="#444" stroke-width="2"/>
<line x1="247" y1="1540.5" x2="912.3" y2="1540.5" stroke="#888" stroke-width="2"/>
<line x1="247" y1="985.5" x2="247" y2="1540.5" stroke="#444" stroke-width="2"/>
<line x1="247" y1="1513.5" x2="253" y2="1513.5" stroke="#444" stroke-width="2"/>
<line x1="912.3" y1="1513.5" x2="906.3" y2="1513.5" stroke="#444" stroke-width="2"/>
<text x="242.1" y="1517.5" text-anchor="end">-4</text>
<line x1="247" y1="1487.1" x2="250" y2="1487.1" stroke="#444" stroke-width="2"/>
<line x1="912.3" y1="1487.1" x2="909.3" y2="1487.1" stroke="#444" stroke-width="2"/>
<line x1="247" y1="1460.7" x2="253" y2="1460.7" stroke="#444" stroke-width="2"/>
<line x1="912.3" y1="1460.7" x2="906.3" y2="1460.7" stroke="#444" stroke-width="2"/>
<text x="242.1" y="1464.7" text-anchor="end">-2</text>
<line x1="247" y1="1434.3" x2="250" y2="1434.3" stroke="#444" stroke-width="2"/>
<line x1="912.3" y1="1434.3" x2="909.3" y2="1434.3" stroke="#444" stroke-width="2"/>
<line x1="247" y1="1407.9" x2="253" y2="1407.9" stroke="#444" stroke-width="2"/>
<line x1="912.3" y1="1407.9" x2="906.3" y2="1407.9" stroke="#444" stroke-width="2"/>
<text x="242.1" y="1411.9" text-anchor="end">0</text>
<line x1="247" y1="1381.5" x2="250" y2="1381.5" stroke="#444" stroke-width="2"/>
<line x1="912.3" y1="1381.5" x2="909.3" y2="1381.5" stroke="#444" stroke-width="2"/>
<line x1="247" y1="1355.1" x2="253" y2="1355.1" stroke="#444" stroke-width="2"/>
<line x1="912.3" y1="1355.1" x2="906.3" y2="1355.1" stroke="#444" stroke-width="2"/>
<text x="242.1" y="1359.1" text-anchor="end">2</text>
<line x1="247" y1="1328.7" x2="250" y2="1328.7" stroke="#444" stroke-width="2"/>
<line x1="912.3" y1="1328.7" x2="909.3" y2="1328.7" stroke="#444" stroke-width="2"/>
<line x1="247" y1="1302.3" x2="253" y2="1302.3" stroke="#444" stroke-width="2"/>
<line x1="912.3" y1="1302.3" x2="906.3" y2="1302.3" stroke="#444" stroke-width="2"/>
<text x="242.1" y="1306.3" text-anchor="end">4</text>
<line x1="247" y1="1275.9" x2="250" y2="1275.9" stroke="#444" stroke-width="2"/>
<line x1="912.3" y1="1275.9" x2="909.3" y2="1275.9" stroke="#444" stroke-width="2"/>
<line x1="247" y1="1249.5" x2="253" y2="1249.5" stroke="#444" stroke-width="2"/>
<line x1="912.3" y1="1249.5" x2="906.3" y2="1249.5" stroke="#444" stroke-width="2"/>
<text x="242.1" y="1253.5" text-anchor="end">6</text>
<line x1="247" y1="1223.1" x2="250" y2="1223.1" stroke="#444" stroke-width="2"/>
<line x1="912.3" y1="1223.1" x2="909.3" y2="1223.1" stroke="#444" stroke-width="2"/>
<line x1="247" y1="1196.7" x2="253" y2="1196.7" stroke="#444" stroke-width="2"/>
<line x1="912.3" y1="1196.7" x2="906.3" y2="1196.7" stroke="#444" stroke-width="2"/>
<text x="242.1" y="1200.7" text-anchor="end">8</text>
<line x1="247" y1="1170.3" x2="250" y2="1170.3" stroke="#444" stroke-width="2"/>
<line x1="912.3" y1="1170.3" x2="909.3" y2="1170.3" stroke="#444" stroke-width="2"/>
<line x1="247" y1="1143.9" x2="253" y2="1143.9" stroke="#444" stroke-width="2"/>
<line x1="912.3" y1="1143.9" x2="906.3" y2="1143.9" stroke="#444" stroke-width="2"/>
<text x="242.1" y="1147.9" text-anchor="end">10</text>
<line x1="247" y1="1117.5" x2="250" y2="1117.5" stroke="#444" stroke-width="2"/>
<line x1="912.3" y1="1117.5" x2="909.3" y2="1117.5" stroke="#444" stroke-width="2"/>
<line x1="247" y1="1091.1" x2="253" y2="1091.1" stroke="#444" stroke-width="2"/>
<line x1="912.3" y1="1091.1" x2="906.3" y2="1091.1" stroke="#444" stroke-width="2"/>
<text x="242.1" y="1095.1" text-anchor="end">12</text>
<line x1="247" y1="1064.7" x2="250" y2="1064.7" stroke="#444" stroke-width="2"/>
<line x1="912.3" y1="1064.7" x2="909.3" y2="1064.7" stroke="#444" stroke-width="2"/>
<line x1="247" y1="1038.3" x2="253" y2="1038.3" stroke="#444" stroke-width="2"/>
<line x1="912.3" y1="1038.3" x2="906.3" y2="1038.3" stroke="#444" stroke-width="2"/>
<text x="242.1" y="1042.3" text-anchor="end">14</text>
<line x1="247" y1="1011.9" x2="250" y2="1011.9" stroke="#444" stroke-width="2"/>
<line x1="912.3" y1="1011.9" x2="909.3" y2="1011.9" stroke="#444" stroke-width="2"/>
<line x1="247" y1="985.5" x2="253" y2="985.5" stroke="#444" stroke-width="2"/>
<line x1="912.3" y1="985.5" x2="906.3" y2="985.5" stroke="#444" stroke-width="2"/>
<text x="242.1" y="989.5" text-anchor="end">16</text>
<line x1="288.5" y1="1540.5" x2="288.5" y2="1534.5" stroke="#444" stroke-width="2"/>
<line x1="288.5" y1="985.5" x2="288.5" y2="991.5" stroke="#444" stroke-width="2"/>
<text x="288.5" y="1555.3" text-anchor="middle">4</text>
<line x1="364.6" y1="1540.5" x2="364.6" y2="1534.5" stroke="#444" stroke-width="2"/>
<line x1="364.6" y1="985.5" x2="364.6" y2="991.5" stroke="#444" stroke-width="2"/>
<text x="364.6" y="1555.3" text-anchor="middle">8</text>
<line x1="440.7" y1="1540.5" x2="440.7" y2="1534.5" stroke="#444" stroke-width="2"/>
<line x1="440.7" y1="985.5" x2="440.7" y2="991.5" stroke="#444" stroke-width="2"/>
<text x="440.7" y="1555.3" text-anchor="middle">12</text>
<line x1="516.9" y1="1540.5" x2="516.9" y2="1534.5" stroke="#444" stroke-width="2"/>
<line x1="516.9" y1="985.5" x2="516.9" y2="991.5" stroke="#444" stroke-width="2"/>
<text x="516.9" y="1555.3" text-anchor="middle">16</text>
<line x1="593.0" y1="1540.5" x2="593.0" y2="1534.5" stroke="#444" stroke-width="2"/>
<line x1="593.0" y1="985.5" x2="593.0" y2="991.5" stroke="#444" stroke-width="2"/>
<text x="593.0" y="1555.3" text-anchor="middle">20</text>
<line x1="669.1" y1="1540.5" x2="669.1" y2="1534.5" stroke="#444" stroke-width="2"/>
<line x1="669.1" y1="985.5" x2="669.1" y2="991.5" stroke="#444" stroke-width="2"/>
<text x="669.1" y="1555.3" text-anchor="middle">24</text>
<line x1="745.2" y1="1540.5" x2="745.2" y2="1534.5" stroke="#444" stroke-width="2"/>
<line x1="745.2" y1="985.5" x2="745.2" y2="991.5" stroke="#444" stroke-width="2"/>
<text x="745.2" y="1555.3" text-anchor="middle">28</text>
<line x1="821.3" y1="1540.5" x2="821.3" y2="1534.5" stroke="#444" stroke-width="2"/>
<line x1="821.3" y1="985.5" x2="821.3" y2="991.5" stroke="#444" stroke-width="2"/>
<text x="821.3" y="1555.3" text-anchor="middle">32</text>
<line x1="247" y1="1170.3" x2="912.3" y2="1170.3" stroke="#2e8f3e" stroke-width="2" stroke-dasharray="5,3"/>
<line x1="247" y1="1302.3" x2="912.3" y2="1302.3" stroke="#3aa04a" stroke-width="2" stroke-dasharray="5,3"/>
<polyline points="250.4,1279.9 269.5,1358.8 288.5,1291.7 307.5,1193.0 326.6,1275.4 345.6,1252.7 364.6,1208.1 383.6,1212.5 402.7,1203.6 421.7,1198.8 440.7,1243.4 459.8,1175.3 478.8,1231.3 497.8,1199.1 516.9,1179.8 535.9,1212.5 554.9,1176.1 574.0,1187.5 593.0,1148.1 612.0,1262.4 631.0,1359.9 650.1,1295.4 669.1,1185.1 688.1,1245.3 707.2,1148.9 726.2,1141.0 745.2,1138.1 764.2,1183.0 783.3,1253.5 802.3,1117.0 821.3,1173.2 840.4,1234.5" fill="none" stroke="#7eaed3" stroke-width="1.6"/>
<text x="0" y="0" transform="translate(227,1292) rotate(-90)" font-size="16" fill="#333" font-weight="normal"><tspan x="0">单位</tspan><tspan x="35" font-weight="bold">:</tspan><tspan x="49" font-family="Liberation Serif" font-weight="bold" font-size="16">N</tspan></text>
<text x="562" y="1568" font-size="16" fill="#444" font-weight="normal">序号</text>
<rect x="928" y="991.5" width="72.5" height="25.5" fill="#c2c2c2"/>
<rect x="923" y="986.5" width="72.5" height="25.5" fill="#fff" stroke="#333" stroke-width="1.5"/>
<line x1="930" y1="999" x2="952" y2="999" stroke="#7aa8cc" stroke-width="1.5"/>
<text x="960" y="1004" font-size="13" font-weight="bold" fill="#333">峰值</text>
</svg>

<!-- footer -->
<div style="position:absolute;left:113.7px;top:1603.7px;width:967px;height:3px;background:#4f81c2"></div>
<div style="position:absolute;left:113.7px;top:1607.8px;width:967px;height:1.2px;background:#8fb2dc"></div>
<div class="a" style="left:457.5px;top:1617.5px;font-size:21px;color:#1a1a1a">南北潮商城</div>
<div class="a" style="left:573.5px;top:1618px;font-size:22.4px;color:#1a1a1a">www.nbchao.com</div>
</body></html>
